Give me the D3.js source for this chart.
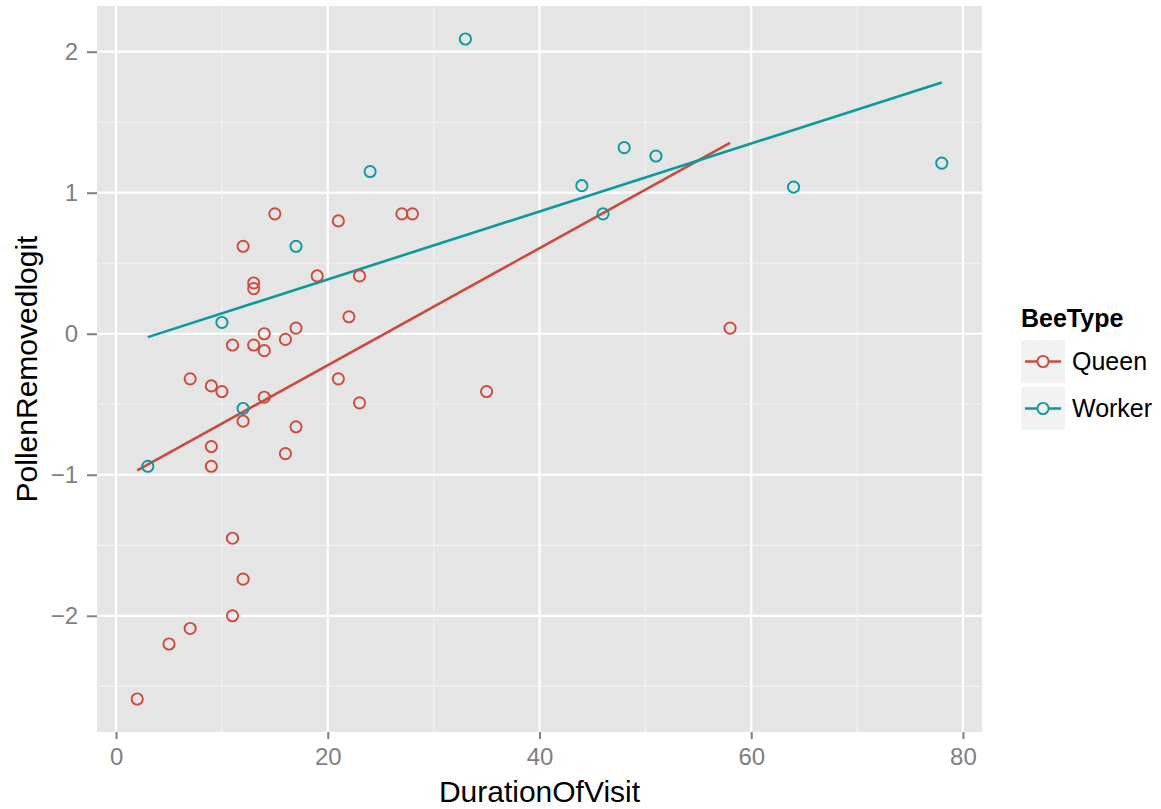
<!DOCTYPE html>
<html>
<head>
<meta charset="utf-8">
<script src="https://cdn.jsdelivr.net/npm/d3@7"></script>
<style>
  body { margin: 0; background: #fff; }
  svg text { font-family: "Liberation Sans", Arial, Helvetica, sans-serif; }
</style>
</head>
<body>
<svg id="chart" width="1161" height="809"></svg>
<script>
// data
const beeTypes = ["Queen", "Worker"];
const colors = ["#CB4A3D", "#0B999D"];

const queenDuration = [15, 21, 27, 28, 12, 13, 13, 19, 23, 22, 17, 14, 11, 13, 14, 16,
  7, 9, 10, 14, 12, 17, 9, 9, 16, 21, 23, 35, 11, 12, 11, 7, 5, 2, 58];
const queenPollen = [0.85, 0.80, 0.85, 0.85, 0.62, 0.36, 0.32, 0.41, 0.41, 0.12, 0.04, 0.00, -0.08, -0.08, -0.12, -0.04,
  -0.32, -0.37, -0.41, -0.45, -0.62, -0.66, -0.80, -0.94, -0.85, -0.32, -0.49, -0.41, -1.45, -1.74, -2.00, -2.09, -2.20, -2.59, 0.04];

const workerDuration = [33, 24, 17, 10, 12, 3, 44, 46, 48, 51, 64, 78];
const workerPollen = [2.09, 1.15, 0.62, 0.08, -0.53, -0.94, 1.05, 0.85, 1.32, 1.26, 1.04, 1.21];

const xTicks = [0, 20, 40, 60, 80];
const yTicks = [-2, -1, 0, 1, 2];

const groups = [
  {name: beeTypes[0], color: colors[0], pts: queenDuration.map((d, i) => ({x: d, y: queenPollen[i]}))},
  {name: beeTypes[1], color: colors[1], pts: workerDuration.map((d, i) => ({x: d, y: workerPollen[i]}))}
];

// least squares line, like geom_smooth(method = "lm")
function fitLine(pts) {
  const mx = d3.mean(pts, d => d.x), my = d3.mean(pts, d => d.y);
  let sxy = 0, sxx = 0;
  pts.forEach(d => { sxy += (d.x - mx) * (d.y - my); sxx += (d.x - mx) * (d.x - mx); });
  const b = sxy / sxx, a = my - b * mx;
  const [x0, x1] = d3.extent(pts, d => d.x);
  return [{x: x0, y: a + b * x0}, {x: x1, y: a + b * x1}];
}

const svg = d3.select("#chart");
const panel = {left: 97, right: 982, top: 6, bottom: 732};

const allX = groups.flatMap(g => g.pts.map(d => d.x));
const allY = groups.flatMap(g => g.pts.map(d => d.y));
const xe = d3.extent(allX), ye = d3.extent(allY);
const xPad = (xe[1] - xe[0]) * 0.05, yPad = (ye[1] - ye[0]) * 0.05;

const x = d3.scaleLinear().domain([xe[0] - xPad, xe[1] + xPad]).range([panel.left, panel.right]);
const y = d3.scaleLinear().domain([ye[0] - yPad, ye[1] + yPad]).range([panel.bottom, panel.top]);

// panel background
svg.append("rect")
  .attr("x", panel.left).attr("y", panel.top)
  .attr("width", panel.right - panel.left).attr("height", panel.bottom - panel.top)
  .attr("fill", "#E5E5E5");

// minor grid
const xMinor = xTicks.slice(0, -1).map(t => t + 10).concat([-10, 90]).filter(t => x(t) > panel.left && x(t) < panel.right);
const yMinor = yTicks.map(t => t - 0.5).concat([2.5]).filter(t => y(t) > panel.top && y(t) < panel.bottom);

svg.append("g").selectAll("line").data(xMinor).join("line")
  .attr("x1", d => x(d)).attr("x2", d => x(d))
  .attr("y1", panel.top).attr("y2", panel.bottom)
  .attr("stroke", "#F2F2F2").attr("stroke-width", 1.2);
svg.append("g").selectAll("line").data(yMinor).join("line")
  .attr("y1", d => y(d)).attr("y2", d => y(d))
  .attr("x1", panel.left).attr("x2", panel.right)
  .attr("stroke", "#F2F2F2").attr("stroke-width", 1.2);

// major grid
svg.append("g").selectAll("line").data(xTicks).join("line")
  .attr("x1", d => x(d)).attr("x2", d => x(d))
  .attr("y1", panel.top).attr("y2", panel.bottom)
  .attr("stroke", "#fff").attr("stroke-width", 2.2);
svg.append("g").selectAll("line").data(yTicks).join("line")
  .attr("y1", d => y(d)).attr("y2", d => y(d))
  .attr("x1", panel.left).attr("x2", panel.right)
  .attr("stroke", "#fff").attr("stroke-width", 2.2);

// axes
const xAxis = svg.append("g")
  .attr("transform", `translate(0,${panel.bottom})`)
  .call(d3.axisBottom(x).tickValues(xTicks).tickSize(7).tickPadding(9));
const yAxis = svg.append("g")
  .attr("transform", `translate(${panel.left},0)`)
  .call(d3.axisLeft(y).tickValues(yTicks).tickSize(10).tickPadding(9).tickFormat(d => d < 0 ? "\u2212" + Math.abs(d) : d));

[xAxis, yAxis].forEach(a => {
  a.select(".domain").remove();
  a.selectAll(".tick line").attr("stroke", "#7F7F7F").attr("stroke-width", 2);
  a.selectAll(".tick text")
    .attr("fill", "#7F7F7F")
    .style("font-size", "24px")
    .style("font-family", "'Liberation Sans', Arial, sans-serif");
});

// axis titles
svg.append("text")
  .attr("x", (panel.left + panel.right) / 2)
  .attr("y", 802)
  .attr("text-anchor", "middle")
  .style("font-size", "30px")
  .text("DurationOfVisit");

svg.append("text")
  .attr("transform", `translate(37,${(panel.top + panel.bottom) / 2}) rotate(-90)`)
  .attr("text-anchor", "middle")
  .style("font-size", "30px")
  .text("PollenRemovedlogit");

// fitted lines
const plot = svg.append("g");
groups.forEach(g => {
  plot.append("path")
    .datum(fitLine(g.pts))
    .attr("d", d3.line().x(d => x(d.x)).y(d => y(d.y)))
    .attr("fill", "none")
    .attr("stroke", g.color)
    .attr("stroke-width", 2.6);
});

// points
groups.forEach(g => {
  plot.append("g").selectAll("circle").data(g.pts).join("circle")
    .attr("cx", d => x(d.x))
    .attr("cy", d => y(d.y))
    .attr("r", 5.6)
    .attr("fill", "none")
    .attr("stroke", g.color)
    .attr("stroke-width", 1.9);
});

// legend
const legend = svg.append("g").attr("transform", "translate(1021,0)");
legend.append("text")
  .attr("x", 0).attr("y", 327)
  .style("font-size", "25px")
  .style("font-weight", "bold")
  .text("BeeType");

const keySize = 44;
groups.forEach((g, i) => {
  const top = 340 + i * 47;
  const k = legend.append("g").attr("transform", `translate(0,${top})`);
  k.append("rect")
    .attr("width", keySize).attr("height", keySize - 1)
    .attr("fill", "#F2F2F2");
  k.append("line")
    .attr("x1", 4).attr("x2", keySize - 4)
    .attr("y1", (keySize - 1) / 2).attr("y2", (keySize - 1) / 2)
    .attr("stroke", g.color).attr("stroke-width", 2.6);
  k.append("circle")
    .attr("cx", keySize / 2).attr("cy", (keySize - 1) / 2)
    .attr("r", 5.6)
    .attr("fill", "#F2F2F2")
    .attr("stroke", g.color).attr("stroke-width", 1.9);
  legend.append("text")
    .attr("x", 51).attr("y", top + (keySize - 1) / 2)
    .attr("dy", "0.35em")
    .style("font-size", "25px")
    .text(g.name);
});
</script>
</body>
</html>
